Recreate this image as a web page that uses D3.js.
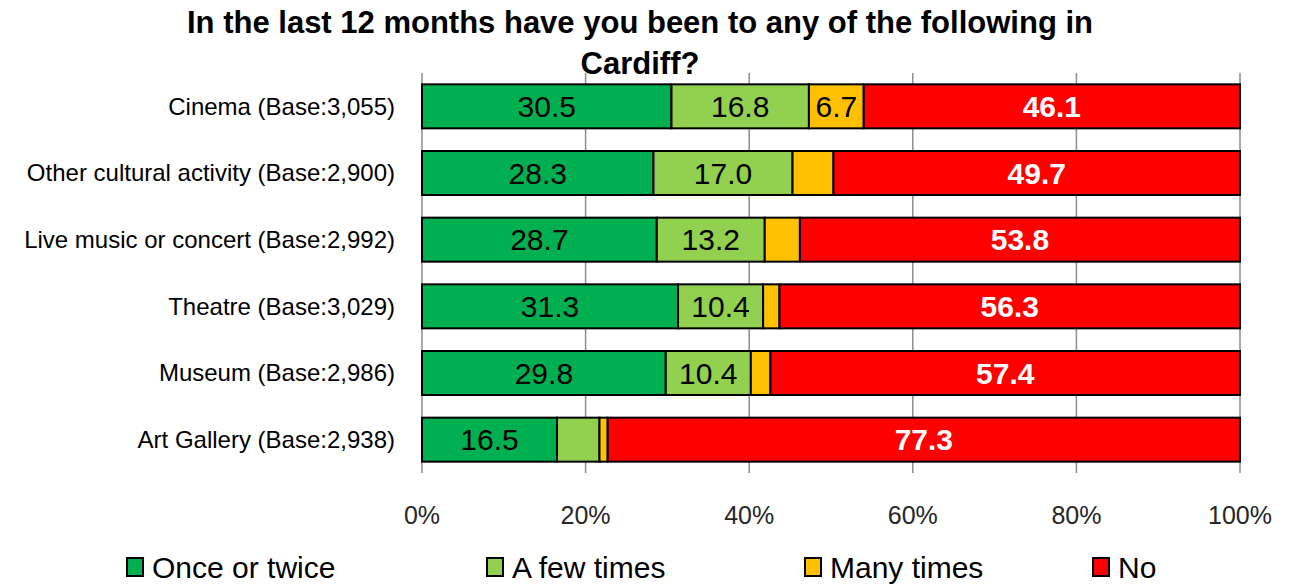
<!DOCTYPE html>
<html lang="en">
<head>
<meta charset="UTF-8" />
<title>In the last 12 months have you been to any of the following in Cardiff?</title>
<script src="https://d3js.org/d3.v7.min.js"></script>
<style>
    body { margin: 0; background: #fff; }
    svg { display: block; font-family: "Liberation Sans", Arial, sans-serif; }
</style>
</head>
<body>
<svg id="chart" width="1292" height="586"></svg>
<script>
    const categories = [
        "Cinema (Base:3,055)",
        "Other cultural activity (Base:2,900)",
        "Live music or concert (Base:2,992)",
        "Theatre (Base:3,029)",
        "Museum (Base:2,986)",
        "Art Gallery (Base:2,938)"
    ];
    const seriesNames = ["Once or twice", "A few times", "Many times", "No"];
    const onceOrTwice = [30.5, 28.3, 28.7, 31.3, 29.8, 16.5];
    const aFewTimes = [16.8, 17.0, 13.2, 10.4, 10.4, 5.2];
    const manyTimes = [6.7, 5.0, 4.3, 2.0, 2.4, 1.0];
    const no = [46.1, 49.7, 53.8, 56.3, 57.4, 77.3];
    const xTicks = [0, 20, 40, 60, 80, 100];
    const colors = ["#00b050", "#92d050", "#ffc000", "#ff0000"];

    const svg = d3.select("#chart");
    const margin = { top: 73, right: 52, bottom: 113, left: 422 };
    const width = 1292, height = 586;

    const x = d3.scaleLinear().domain([0, 100]).range([margin.left, width - margin.right]);
    const y = d3.scaleBand().domain(categories).range([margin.top, height - margin.bottom]).paddingInner(0.34).paddingOuter(0.17);

    const rows = categories.map((c, i) => ({
        cat: c,
        values: [onceOrTwice[i], aFewTimes[i], manyTimes[i], no[i]]
    }));

    // gridlines
    svg.append("g").selectAll("line").data(xTicks).join("line")
        .attr("x1", d => x(d)).attr("x2", d => x(d))
        .attr("y1", margin.top).attr("y2", height - margin.bottom)
        .attr("stroke", "#8c8c8c").attr("stroke-width", 1.5);

    // bars
    const segs = [];
    rows.forEach(r => {
        let acc = 0;
        r.values.forEach((v, k) => {
            segs.push({ cat: r.cat, k, v, x0: acc, x1: acc + v });
            acc += v;
        });
    });

    svg.append("g").selectAll("rect").data(segs).join("rect")
        .attr("x", d => x(d.x0))
        .attr("y", d => y(d.cat))
        .attr("width", d => Math.min(x(d.x1), x(100)) - x(d.x0))
        .attr("height", y.bandwidth())
        .attr("fill", d => colors[d.k])
        .attr("stroke", "#000")
        .attr("stroke-width", 2);

    svg.append("g").selectAll("text").data(segs.filter(d => d.v >= 6)).join("text")
        .attr("x", d => (x(d.x0) + Math.min(x(d.x1), x(100))) / 2)
        .attr("y", d => y(d.cat) + y.bandwidth() / 2)
        .attr("dy", "0.36em")
        .attr("text-anchor", "middle")
        .attr("font-size", 30)
        .attr("font-weight", d => d.k === 3 ? "bold" : "normal")
        .attr("fill", d => d.k === 3 ? "#fff" : "#000")
        .text(d => d.v.toFixed(1));

    // category labels
    svg.append("g").selectAll("text").data(categories).join("text")
        .attr("x", 395)
        .attr("y", d => y(d) + y.bandwidth() / 2)
        .attr("dy", "0.35em")
        .attr("text-anchor", "end")
        .attr("font-size", 24)
        .attr("fill", "#000")
        .text(d => d);

    // x tick labels
    svg.append("g").selectAll("text").data(xTicks).join("text")
        .attr("x", d => x(d))
        .attr("y", 515)
        .attr("dy", "0.35em")
        .attr("text-anchor", "middle")
        .attr("font-size", 25)
        .attr("fill", "#262626")
        .text(d => d + "%");

    // title
    const title = svg.append("text")
        .attr("text-anchor", "middle")
        .attr("font-size", 31)
        .attr("font-weight", "bold")
        .attr("fill", "#000");
    title.append("tspan").attr("x", 640).attr("y", 33).text("In the last 12 months have you been to any of the following in");
    title.append("tspan").attr("x", 640).attr("y", 74).text("Cardiff?");

    // legend
    const legendX = [127, 487, 805, 1093];
    const legend = svg.append("g").selectAll("g").data(seriesNames).join("g")
        .attr("transform", (d, i) => `translate(${legendX[i]}, 567)`);
    legend.append("rect")
        .attr("x", 0).attr("y", -9).attr("width", 16).attr("height", 18)
        .attr("fill", (d, i) => colors[i])
        .attr("stroke", "#000").attr("stroke-width", 2);
    legend.append("text")
        .attr("x", 25).attr("dy", "0.36em")
        .attr("font-size", 30)
        .attr("fill", "#000")
        .text(d => d);
</script>
</body>
</html>
